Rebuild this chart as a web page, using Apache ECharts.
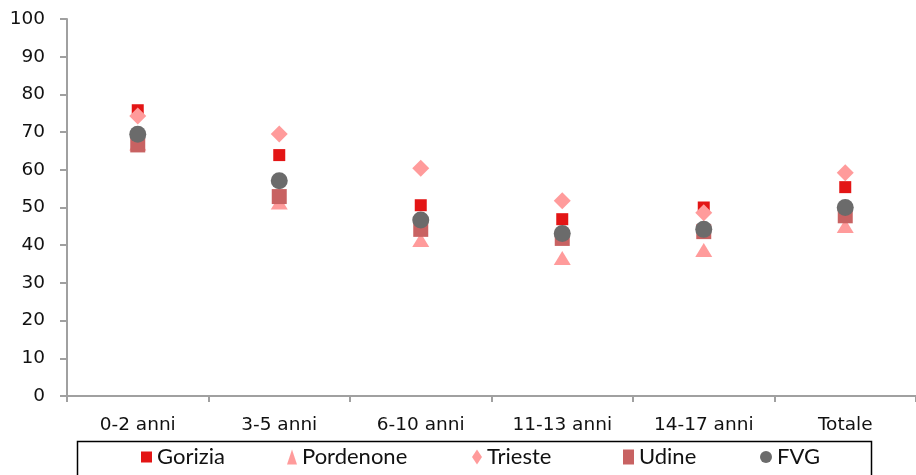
<!DOCTYPE html>
<html><head><meta charset="utf-8">
<script src="https://cdn.jsdelivr.net/npm/echarts@6/dist/echarts.min.js"></script>
<style>html,body{margin:0;padding:0;background:#fff}#c{width:916px;height:475px}</style>
</head><body><div id="c"></div>
<script>
const categories = ['0-2 anni','3-5 anni','6-10 anni','11-13 anni','14-17 anni','Totale'];
const gorizia   = [75.8, 63.9, 50.6, 46.9, 50.0, 55.4];
const pordenone = [67.0, 51.3, 41.4, 36.6, 38.7, 45.1];
const trieste   = [74.3, 69.5, 60.4, 51.8, 48.6, 59.2];
const udine     = [66.6, 52.9, 44.2, 41.8, 43.6, 47.8];
const fvg       = [69.4, 57.1, 46.7, 43.1, 44.2, 50.0];
const yTicks = [0,10,20,30,40,50,60,70,80,90,100];

const names = ['Gorizia','Pordenone','Trieste','Udine','FVG'];
const datas = [gorizia, pordenone, trieste, udine, fvg];
const colors = ['#E31515','#FF9B9B','#FF9B9B','#C86262','#6B6B6B'];
const symbols = ['rect','triangle','diamond','rect','circle'];
const sizes = [[12,12],[17,14],[17,17],[15,15],[17,17]];
const legendIcons = ['rect','triangle','diamond','rect','circle'];
const legendLeft = [141, 287, 472, 623, 760];
const legendIconSize = [[11,11],[10,15],[10,15],[11,15],[12,15]];

const chart = echarts.init(document.getElementById('c'));
chart.setOption({
  animation:false,
  grid:{left:67,right:0,top:19,bottom:79},
  xAxis:{type:'category',data:categories,
    axisLine:{lineStyle:{color:'#a0a0a0',width:2}},
    axisTick:{show:true,length:6,lineStyle:{color:'#a0a0a0',width:2}},
    axisLabel:{color:'#111',fontFamily:'DejaVu Sans',fontSize:18.5,margin:20}},
  yAxis:{type:'value',min:0,max:100,interval:10,
    axisLine:{show:true,lineStyle:{color:'#a0a0a0',width:2}},
    axisTick:{show:true,length:7,lineStyle:{color:'#a0a0a0',width:2}},
    splitLine:{show:false},
    axisLabel:{color:'#111',fontFamily:'DejaVu Sans',fontSize:18.5,margin:22,
      formatter:v=>yTicks.includes(v)?String(v):''}},
  legend: names.map((n,i)=>({data:[{name:n,icon:legendIcons[i]}],left:legendLeft[i],top:446,
    itemWidth:legendIconSize[i][0],itemHeight:legendIconSize[i][1],itemGap:0,padding:0,
    textStyle:{fontFamily:'Lato',fontSize:22,color:'#111',padding:[0,0,0,0]}})),
  graphic:[{type:'rect',shape:{x:77.5,y:441.5,width:794,height:60},
    style:{fill:'none',stroke:'#000',lineWidth:1.5},silent:true}],
  series: names.map((n,i)=>({name:n,type:'scatter',data:datas[i],symbol:symbols[i],
    symbolSize:sizes[i],itemStyle:{color:colors[i],opacity:1},z:2+i}))
});
</script></body></html>
